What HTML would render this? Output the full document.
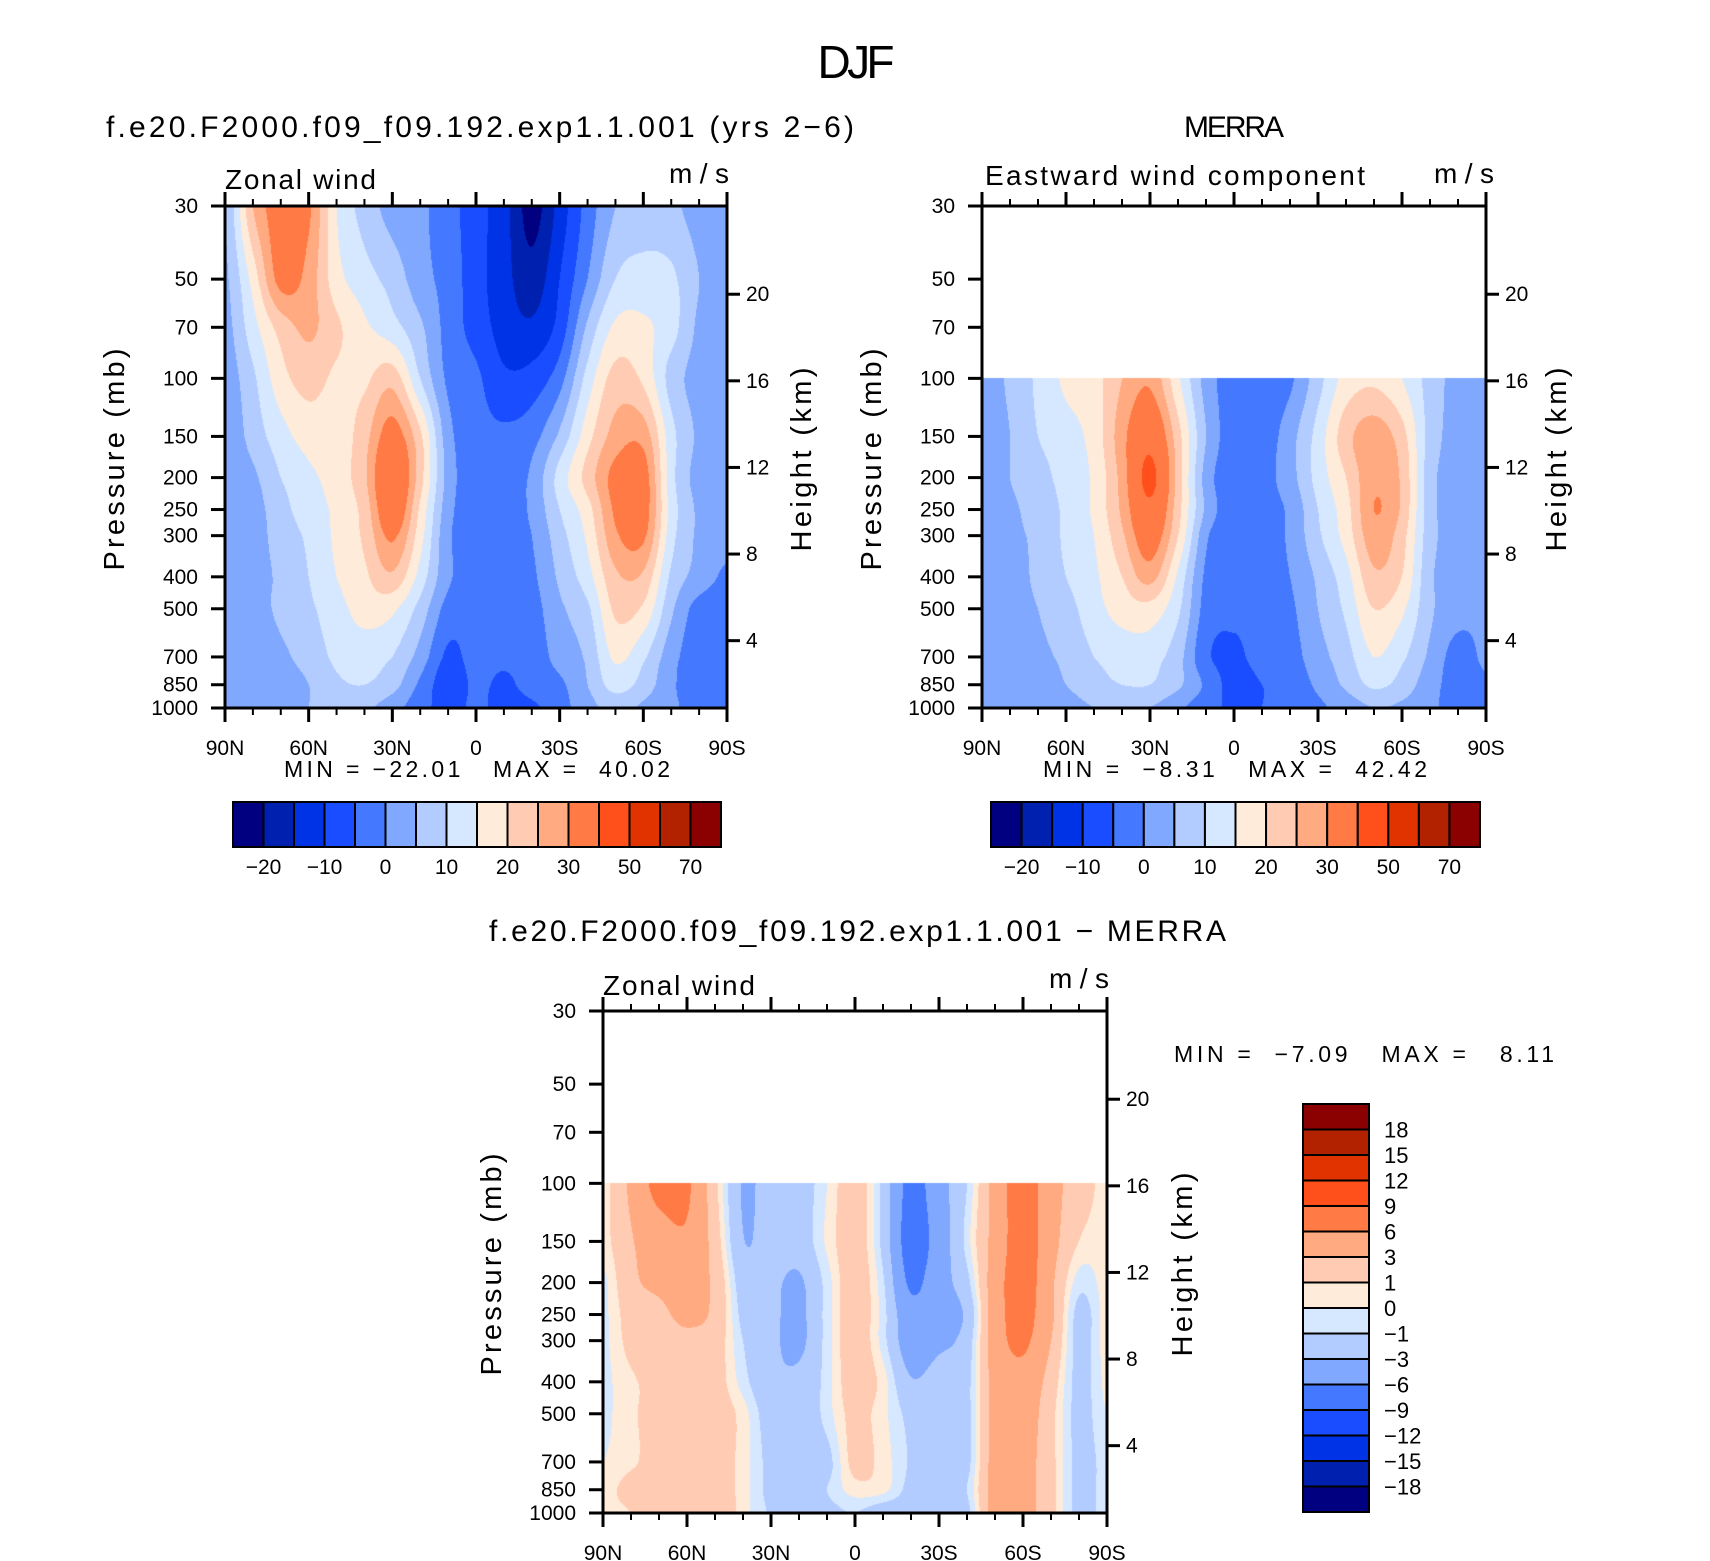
<!DOCTYPE html>
<html><head><meta charset="utf-8">
<style>
html,body{margin:0;padding:0;background:#fff;}
#wrap{position:relative;width:1710px;height:1561px;overflow:hidden;background:#fff;}
canvas{position:absolute;}
svg{position:absolute;left:0;top:0;}
text{font-family:"Liberation Sans",sans-serif;fill:#000;}
</style></head>
<body>
<div id="wrap">
<canvas id="cA"></canvas>
<canvas id="cB"></canvas>
<canvas id="cC"></canvas>
<svg id="svg" width="1710" height="1561" xmlns="http://www.w3.org/2000/svg">
<text x="856" y="78" font-size="46" text-anchor="middle" textLength="77">DJF</text>
<text x="106" y="137" font-size="30" textLength="748" xml:space="preserve">f.e20.F2000.f09_f09.192.exp1.1.001 (yrs 2−6)</text>
<text x="1234" y="137" font-size="30" text-anchor="middle" textLength="100">MERRA</text>
<text x="225" y="189" font-size="28" textLength="151">Zonal wind</text>
<text x="729" y="183" font-size="28" text-anchor="end" textLength="60">m/s</text>
<text x="985" y="185" font-size="28" textLength="380">Eastward wind component</text>
<text x="1494" y="183" font-size="28" text-anchor="end" textLength="60">m/s</text>
<text x="284" y="777" font-size="23" textLength="386" xml:space="preserve">MIN = −22.01   MAX =  40.02</text>
<text x="1043" y="777" font-size="23" textLength="384" xml:space="preserve">MIN =  −8.31   MAX =  42.42</text>
<text x="489" y="941" font-size="30" textLength="737" xml:space="preserve">f.e20.F2000.f09_f09.192.exp1.1.001 − MERRA</text>
<text x="603" y="995" font-size="28" textLength="152">Zonal wind</text>
<text x="1109" y="988" font-size="28" text-anchor="end" textLength="60">m/s</text>
<text x="1174" y="1062" font-size="23" textLength="380" xml:space="preserve">MIN =  −7.09   MAX =   8.11</text>
</svg>
</div>
<script>
const PLEV=[30,50,70,100,150,200,250,300,400,500,700,850,1000];
const LATS=[90,80,70,60,50,40,30,20,10,0,-10,-20,-30,-40,-50,-60,-70,-80,-90];
const LAT_TICK_LABELS=["90N","60N","30N","0","30S","60S","90S"];
const HEIGHT_TICKS=[4,8,12,16,20];
const LEVELS_FULL=[-20,-15,-10,-5,0,5,10,15,20,25,30,40,50,60,70];
const LEVELS_DIFF=[-18,-15,-12,-9,-6,-3,-1,0,1,3,6,9,12,15,18];
const COLORS=["#000080","#0020b0","#0033e6","#1a4dff","#4479ff","#80a8ff","#b3ccff","#d6e8ff","#ffebd9","#ffccb3","#ffaa80","#ff7a45","#ff4f1a","#e03300","#b32200","#8b0000"];
// model zonal wind, rows = PLEV, cols = LATS
const modelU=[
[5,25,33,31,15,8,3,1,-3,-8,-13,-22,-13,-3,5,7,6,3,2],
[4,17,32,28,17,12,8,2,-2,-8,-13,-18,-10,0,10,12,11,5,3],
[3,13,22,26,21,16,12,6,-2,-7,-12,-14,-8,6,16,16,12,4,3],
[2,9,18,22,19,19,23,10,-1,-4,-9,-8,-2,12,22,19,8,3,2],
[1,7,13,17,17,23,33,21,2,-3,-4,-2,6,18,27,28,12,4,2],
[1,4,10,14,17,24,38,22,3,-3,-3,1,12,22,32,33,12,3,2],
[1,3,8,13,16,22,36,19,2,-3,-3,1,10,18,31,33,13,4,2],
[1,3,7,11,16,21,31,17,1,-2,-3,0,8,16,29,31,12,4,2],
[1,3,6,10,15,19,24,13,1,-2,-3,-1,6,13,24,24,9,3,-1],
[1,3,6,9,13,17,16,8,-2,-3,-3,-2,4,9,21,19,6,-2,-2],
[1,2,4,7,11,12,10,3,-6,-3,-4,-3,2,6,16,11,2,-3,-2],
[1,2,3,5,9,10,7,-1,-8,-4,-6,-3,-1,5,12,8,1,-3,-2],
[1,2,3,5,6,6,2,-3,-7,-4,-7,-6,-2,3,7,4,1,-2,-2]];
// MERRA eastward wind (null above 100 mb)
const merraU=[
null,null,null,
[2,6,11,16,18,25,29,16,3,-3,-4,-1,8,17,19,15,8,3,2],
[1,5,10,13,17,28,37,22,5,-3,-3,3,12,23,28,22,8,3,2],
[1,5,8,12,16,27,42,23,3,-3,-2,3,12,20,29,24,7,3,2],
[1,4,7,11,16,26,38,22,4,-3,-2,1,10,18,30,24,7,3,2],
[1,4,6,11,15,24,34,20,1,-3,-3,1,9,17,28,22,7,3,2],
[1,3,6,10,14,20,27,14,-1,-3,-3,0,6,13,24,20,6,3,2],
[1,3,5,8,13,17,18,11,-2,-4,-3,-1,5,11,20,16,6,2,1],
[1,2,4,6,10,12,12,7,-4,-6,-3,-2,3,8,15,11,4,-2,1],
[1,2,3,5,8,10,10,6,-1,-7,-5,-3,1,6,11,8,2,-2,-1],
[1,1,2,3,5,5,5,1,-3,-6,-5,-3,-1,2,5,4,1,-2,-2]];
// model minus MERRA
const diffU=[
null,null,null,
[0.5,3.5,7,6.5,1.5,-3.2,-2,-2,0,2,-1.5,-7,-4,-1,4,7.5,4,2,0.5],
[0.5,2.8,4.5,5.5,2,-2.9,-2,-2,0.2,2,-1.5,-7.5,-4.5,-0.5,4,7.5,4,1,0.5],
[-0.3,2.5,3.5,4,2.5,-2,-2.5,-3.3,-0.5,2,-0.8,-6.5,-4,-1.5,4.5,7.5,3.5,-0.5,0.5],
[-0.3,1.8,2.5,3.5,2.5,-1.5,-2.5,-3.5,-0.5,2,-0.5,-5,-4,-2.5,4.5,7,3.5,-1.5,0.5],
[-0.3,1.5,2,2.5,2,-1,-2.5,-3.5,-0.5,2,-0.5,-4.5,-3.5,-2,4.5,6.5,3,-1.5,0.5],
[-0.3,0.8,1.5,2,1.8,-0.5,-2.5,-2.5,-0.5,2,0.5,-2.8,-2,-1.5,4,5,2,-1.5,0.3],
[-0.3,0.8,1.5,2,2,0.5,-2,-2.5,-0.5,1.5,0.3,-1.5,-2,-1.5,4,4.5,1.5,-1.5,0],
[0,0.8,1.5,2,2,0.5,-1.5,-2,-1.5,1.5,0.5,-1.2,-2,-1.5,4,4,1.5,-1.5,-0.5],
[0.5,1.5,1.5,2,2,0.5,-1.5,-2,-1,0.5,0.3,-1.5,-2,-1,4,4,1.5,-1.5,-0.5],
[0.5,1,1.5,2,2.5,0.5,-1.2,-2,-1.5,-1,-2,-2,-2,-1.5,4,4,1.5,-1.5,-0.5]];

const L30=Math.log10(30), LSPAN=Math.log10(1000/30);
const HS=6.612, P0=1144;
const NS="http://www.w3.org/2000/svg";
const svg=document.getElementById('svg');
function mk(tag,attrs,parent){const e=document.createElementNS(NS,tag);for(const k in attrs)e.setAttribute(k,attrs[k]);(parent||svg).appendChild(e);return e;}

function makeAxes(o){
  o.y=function(p){return o.top+o.h*(Math.log10(p)-L30)/LSPAN;};
  o.x=function(lat){return o.left+o.w*(90-lat)/180;};
  return o;
}
const plotA=makeAxes({id:'cA',name:'model',left:225,top:206,w:502,h:502,data:modelU,levels:LEVELS_FULL});
const plotB=makeAxes({id:'cB',name:'merra',left:982,top:206,w:504,h:502,data:merraU,levels:LEVELS_FULL});
const plotC=makeAxes({id:'cC',name:'difference',left:603,top:1011,w:504,h:502,data:diffU,levels:LEVELS_DIFF});

function hexToRgb(h){return [parseInt(h.substr(1,2),16),parseInt(h.substr(3,2),16),parseInt(h.substr(5,2),16)];}
const RGB=COLORS.map(hexToRgb);
function colorIndex(v,levels){let i=0;while(i<levels.length&&v>=levels[i])i++;return i;}
function cr(p0,p1,p2,p3,t){return 0.5*((2*p1)+(-p0+p2)*t+(2*p0-5*p1+4*p2-p3)*t*t+(-p0+3*p1-3*p2+p3)*t*t*t);}
function rowVal(row,fi){
  const n=row.length;let j=Math.min(n-2,Math.floor(fi));const s=fi-j;
  const a=row[Math.max(0,j-1)],b=row[j],c=row[j+1],d=row[Math.min(n-1,j+2)];
  return cr(a,b,c,d,s);
}

function drawField(o){
  const c=document.getElementById(o.id);
  c.width=o.w;c.height=o.h;c.style.left=o.left+'px';c.style.top=o.top+'px';
  const ctx=c.getContext('2d');const img=ctx.createImageData(o.w,o.h);const d=img.data;
  const lp=PLEV.map(p=>Math.log10(p));
  let first=0;while(!o.data[first])first++;
  for(let py=0;py<o.h;py++){
    const l=L30+(py+0.5)/o.h*LSPAN;
    if(l<lp[first]-1e-9)continue;
    let k=first;while(k<lp.length-2&&l>lp[k+1])k++;
    let t=(l-lp[k])/(lp[k+1]-lp[k]);t=Math.max(0,Math.min(1,t));
    const km=Math.max(first,k-1),kp=Math.min(lp.length-1,k+2);
    for(let px=0;px<o.w;px++){
      const fi=(px+0.5)/o.w*(LATS.length-1);
      const v=cr(rowVal(o.data[km],fi),rowVal(o.data[k],fi),rowVal(o.data[k+1],fi),rowVal(o.data[kp],fi),t);
      const col=RGB[colorIndex(v,o.levels)];
      const q=(py*o.w+px)*4;d[q]=col[0];d[q+1]=col[1];d[q+2]=col[2];d[q+3]=255;
    }
  }
  ctx.putImageData(img,0,0);
}

function drawAxes(o,pressX,heightX){
  const g=mk('g',{});
  
  
  const fr=mk('rect',{x:o.left,y:o.top,width:o.w,height:o.h,fill:'none',stroke:'#000','stroke-width':3},g);
  
  
  PLEV.forEach(function(p){
    const y=o.y(p);
    const tk=mk('line',{x1:o.left-14,x2:o.left,y1:y,y2:y,stroke:'#000','stroke-width':3},g);
    
    
    const tx=mk('text',{x:o.left-27,y:y+7,'font-size':21,'text-anchor':'end'},g);
    
    
    tx.textContent=p;
  });
  HEIGHT_TICKS.forEach(function(z){
    const y=o.y(P0*Math.exp(-z/HS));
    if(y<o.top+5)return;
    const tk=mk('line',{x1:o.left+o.w,x2:o.left+o.w+13,y1:y,y2:y,stroke:'#000','stroke-width':3},g);
    
    
    const tx=mk('text',{x:o.left+o.w+19,y:y+7,'font-size':21},g);
    
    
    tx.textContent=z;
  });
  for(let lat=90;lat>=-90;lat-=10){
    const x=o.x(lat);const major=(lat%30===0);const len=major?14:7;
    const t1=mk('line',{x1:x,x2:x,y1:o.top+o.h,y2:o.top+o.h+len,stroke:'#000','stroke-width':major?3:2},g);
    
    
    const t2=mk('line',{x1:x,x2:x,y1:o.top,y2:o.top-len,stroke:'#000','stroke-width':major?3:2},g);
    
    
  }
  LAT_TICK_LABELS.forEach(function(lbl,i){
    const tx=mk('text',{x:o.x(90-30*i),y:o.top+o.h+47,'font-size':21,'text-anchor':'middle'},g);
    
    
    tx.textContent=lbl;
  });
  const cy=o.top+o.h*0.505;
  const pt=mk('text',{x:0,y:0,'font-size':29,'text-anchor':'middle',textLength:222,transform:'translate('+(pressX+9)+','+cy+') rotate(-90)'},g);
  
  
  pt.setAttribute('xml:space','preserve');
  pt.textContent='Pressure  (mb)';
  const ht=mk('text',{x:0,y:0,'font-size':29,'text-anchor':'middle',textLength:184,transform:'translate('+(heightX+9)+','+cy+') rotate(-90)'},g);
  
  
  ht.setAttribute('xml:space','preserve');
  ht.textContent='Height  (km)';
}

function hColorbar(x0,x1,y0,y1,levels,name){
  const g=mk('g',{});
  
  
  const bw=(x1-x0)/COLORS.length;
  COLORS.forEach(function(c,i){
    const r=mk('rect',{x:x0+i*bw,y:y0,width:bw,height:y1-y0,fill:c,stroke:'#000','stroke-width':2},g);
    
    
  });
  levels.forEach(function(v,i){
    if(i%2!==0)return;
    const t=mk('text',{x:x0+(i+1)*bw,y:y1+27,'font-size':21,'text-anchor':'middle'},g);
    
    
    t.textContent=String(v).replace('-','−');
  });
}
function vColorbar(x0,x1,y0,y1,levels,name){
  const g=mk('g',{});
  
  
  const bh=(y1-y0)/COLORS.length;
  COLORS.forEach(function(c,i){
    const r=mk('rect',{x:x0,y:y1-(i+1)*bh,width:x1-x0,height:bh,fill:c,stroke:'#000','stroke-width':2},g);
    
    
  });
  levels.forEach(function(v,i){
    const t=mk('text',{x:x1+15,y:y1-(i+1)*bh+8,'font-size':22},g);
    
    
    t.textContent=String(v).replace('-','−');
  });
}

drawField(plotA);drawField(plotB);drawField(plotC);
drawAxes(plotA,115,802);
drawAxes(plotB,872,1557);
drawAxes(plotC,492,1183);
hColorbar(233,721,802,847,LEVELS_FULL,'model-colorbar');
hColorbar(991,1480,802,847,LEVELS_FULL,'merra-colorbar');
vColorbar(1303,1369,1104,1512,LEVELS_DIFF,'difference-colorbar');
</script>
</body></html>
